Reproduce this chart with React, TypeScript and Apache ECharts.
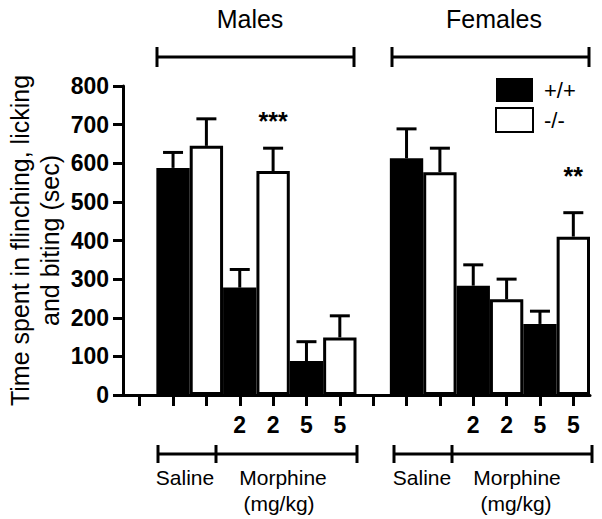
import React, { useEffect, useRef } from "react";
import * as echarts from "echarts";

const categories = ["", "", "", "2", "2", "5", "5", "", "", "", "2", "2", "5", "5"];
const wildType = [null, 588, null, 278, null, 88, null, null, 613, null, 283, null, 184, null];
const knockout = [null, null, 645, null, 580, null, 149, null, null, 577, null, 248, null, 410];
// upper end of error bars, index aligned with categories
const errorTop = [null, 628, 715, 325, 639, 138, 205, null, 689, 639, 337, 300, 217, 472];
const stars = [
  { index: 4, value: 717, text: "***" },
  { index: 13, value: 575, text: "**" },
];
const yTicks = [0, 100, 200, 300, 400, 500, 600, 700, 800];

const FONT = "'Liberation Sans', Arial, Helvetica, sans-serif";

export default function App() {
  const ref = useRef<HTMLDivElement>(null);
  useEffect(() => {
    if (!ref.current) return;
    const chart = echarts.init(ref.current, undefined, { renderer: "svg" });
    const errData: any[] = [];
    errorTop.forEach((e, i) => {
      const v = wildType[i] ?? knockout[i];
      if (e != null && v != null) errData.push([i, v, e]);
    });
    const line = (x1: number, y1: number, x2: number, y2: number) => ({
      type: "line",
      shape: { x1, y1, x2, y2 },
      style: { stroke: "#000", lineWidth: 3 },
    });
    const txt = (x: number, y: number, text: string, size: number) => ({
      type: "text",
      x,
      y,
      style: {
        text,
        fill: "#000",
        font: `${size}px ${FONT}`,
        textAlign: "center",
        textVerticalAlign: "middle",
      },
    });
    chart.setOption({
      animation: false,
      backgroundColor: "#fff",
      grid: { left: 123, right: 12, top: 86, bottom: 124, containLabel: false, outerBoundsMode: "none" },
      legend: {
        orient: "vertical",
        left: 490,
        top: 73,
        icon: "rect",
        itemWidth: 37,
        itemHeight: 24,
        itemGap: 5,
        textStyle: { fontSize: 22, fontFamily: FONT, color: "#000", padding: [0, 0, 0, 6] },
        data: ["+/+", "-/-"],
      },
      xAxis: {
        type: "category",
        data: categories,
        boundaryGap: true,
        axisLine: { lineStyle: { color: "#000", width: 3 } },
        axisTick: {
          show: true,
          alignWithLabel: true,
          length: 11,
          interval: 0,
          lineStyle: { color: "#000", width: 3 },
        },
        axisLabel: {
          show: true,
          interval: 0,
          margin: 18,
          fontSize: 23,
          fontWeight: "bold",
          fontFamily: FONT,
          color: "#000",
        },
      },
      yAxis: {
        type: "value",
        min: yTicks[0],
        max: yTicks[yTicks.length - 1],
        interval: 100,
        name: "Time spent in flinching, licking\nand biting (sec)",
        nameLocation: "middle",
        nameRotate: 90,
        nameGap: 58,
        nameMoveOverlap: false,
        nameTextStyle: { fontSize: 25, fontFamily: FONT, color: "#000", lineHeight: 30 },
        splitLine: { show: false },
        axisLine: { show: true, lineStyle: { color: "#000", width: 3 } },
        axisTick: { show: true, length: 10, lineStyle: { color: "#000", width: 3 } },
        axisLabel: { margin: 14, fontSize: 23, fontWeight: "bold", fontFamily: FONT, color: "#000" },
      },
      series: [
        {
          name: "+/+",
          type: "bar",
          data: wildType,
          barWidth: "100%",
          barGap: "-100%",
          itemStyle: { color: "#000" },
          z: 2,
        },
        {
          name: "-/-",
          type: "bar",
          data: knockout,
          barWidth: "100%",
          barGap: "-100%",
          itemStyle: { color: "#fff", borderColor: "#000", borderWidth: 3 },
          z: 3,
        },
        {
          type: "custom",
          data: errData,
          z: 4,
          renderItem: (params: any, api: any) => {
            const idx = api.value(0);
            const base = api.coord([idx, api.value(1)]);
            const top = api.coord([idx, api.value(2)]);
            const half = 10;
            return {
              type: "group",
              children: [
                { type: "line", shape: { x1: base[0], y1: base[1], x2: top[0], y2: top[1] }, style: { stroke: "#000", lineWidth: 3 } },
                { type: "line", shape: { x1: top[0] - half, y1: top[1], x2: top[0] + half, y2: top[1] }, style: { stroke: "#000", lineWidth: 3 } },
              ],
            };
          },
        },
        {
          type: "custom",
          data: stars.map((s) => [s.index, s.value]),
          z: 5,
          renderItem: (params: any, api: any) => {
            const p = api.coord([api.value(0), api.value(1)]);
            return {
              type: "text",
              x: p[0],
              y: p[1] + 3,
              style: {
                text: stars[params.dataIndex].text,
                fill: "#000",
                font: `bold 25px ${FONT}`,
                textAlign: "center",
                textVerticalAlign: "middle",
              },
            };
          },
        },
      ],
      graphic: [
        txt(250, 19, "Males", 25),
        txt(494, 19, "Females", 25),
        line(157, 57, 354, 57),
        line(157, 47, 157, 67),
        line(354, 47, 354, 67),
        line(392, 57, 589, 57),
        line(392, 47, 392, 67),
        line(589, 47, 589, 67),
        line(158, 454, 357, 454),
        line(158, 445, 158, 463),
        line(216, 445, 216, 463),
        line(357, 445, 357, 463),
        line(394, 454, 592, 454),
        line(394, 445, 394, 463),
        line(452, 445, 452, 463),
        line(592, 445, 592, 463),
        txt(185, 477, "Saline", 21),
        txt(283, 477, "Morphine", 21),
        txt(279, 503, "(mg/kg)", 21),
        txt(422, 477, "Saline", 21),
        txt(517, 477, "Morphine", 21),
        txt(516, 503, "(mg/kg)", 21),
      ],
    });
    return () => chart.dispose();
  }, []);
  return (
    <div
      ref={ref}
      style={{ position: "fixed", left: 0, top: 0, width: 602, height: 519, background: "#fff" }}
    />
  );
}
